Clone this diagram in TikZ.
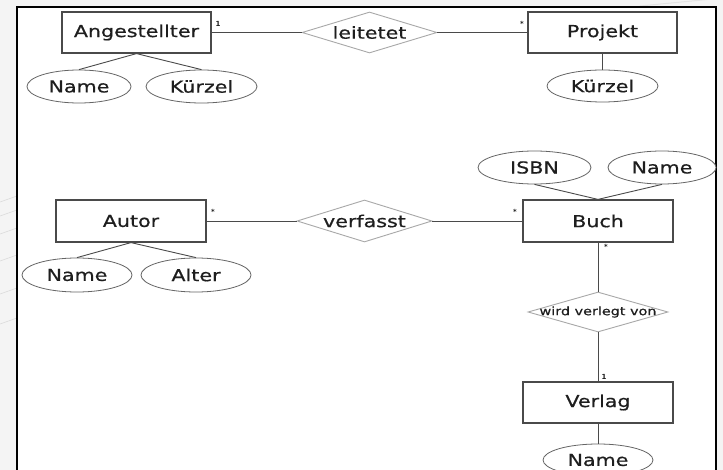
\documentclass[tikz,border=0pt]{standalone}
\usepackage{fontspec}
\usetikzlibrary{shapes.geometric}
\newfontfamily\erfont[FakeStretch=1.25,FakeBold=0.6]{DejaVu Sans}
\newfontfamily\cardfont{DejaVu Sans}
\definecolor{inkline}{HTML}{4A4A4A}
\definecolor{relline}{HTML}{A8A8A8}
\definecolor{inktext}{HTML}{1E1E1E}
\tikzset{
  entity/.style={draw=inkline, line width=1.2pt, fill=white, rectangle,
    minimum width=149pt, minimum height=41pt, inner sep=0pt,
    text=inktext, font=\erfont\fontsize{16.5}{18}\selectfont},
  attrib/.style={draw=inkline!85, line width=0.8pt, fill=white, ellipse,
    minimum width=110pt, minimum height=33pt, inner sep=0pt,
    text=inktext, font=\erfont\fontsize{16.5}{18}\selectfont},
  relation/.style={draw=relline, line width=0.9pt, fill=white, diamond,
    minimum width=135pt, minimum height=41pt, inner sep=0pt},
  reltext/.style={text=inktext, font=\erfont\fontsize{16.5}{18}\selectfont},
  relsmall/.style={text=inktext, font=\erfont\fontsize{11.5}{12}\selectfont},
  card/.style={text=inktext, inner sep=0pt, font=\cardfont\bfseries\fontsize{7}{8}\selectfont},
  link/.style={draw=inkline, line width=0.9pt},
}
\begin{document}
\begin{tikzpicture}[x=1pt, y=-1pt]
  \useasboundingbox (0,0) rectangle (723,470);
  % backdrop and page frame
  \fill[gray!9] (0,0) rectangle (723,470);
  \foreach \yy in {196,210,228,255,288,318}
    \draw[gray!28, line width=0.6pt] (0,\yy+6) -- (17,\yy);
  \draw[gray!22, line width=1pt] (640,6) -- (723,-2);
  \fill[white] (17,7) rectangle (716,480);
  \draw[black, line width=2.4pt] (17,490) -- (17,7) -- (716,7) -- (716,490);

  % upper part: Angestellter leitetet Projekt
  \node[entity] (ang) at (136.5,32.5) {Angestellter};
  \node[relation, label={[reltext]center:leitetet}] (r1) at (369.5,32.5) {};
  \node[entity] (proj) at (602.5,32.5) {Projekt};
  \node[attrib, minimum width=104pt] (angN) at (79,86.5) {Name};
  \node[attrib, minimum width=111pt] (angK) at (201.5,86.5) {Kürzel};
  \node[attrib, minimum width=111pt, minimum height=32pt] (projK) at (602.5,86) {Kürzel};

  \draw[link] (ang.east) -- (r1.west);
  \draw[link] (r1.east) -- (proj.west);
  \draw[link] (ang.south) -- (angN.north);
  \draw[link] (ang.south) -- (angK.north);
  \draw[link] (proj.south) -- (projK.north);
  \node[card] (c1) at (218,24) {1};
  \node[card] (c2) at (522,24) {*};

  % lower part: Autor verfasst Buch, Buch wird verlegt von Verlag
  \node[entity, minimum width=150pt, minimum height=42pt] (autor) at (131,221) {Autor};
  \node[relation, minimum height=42pt, label={[reltext]center:verfasst}] (r2) at (364.5,221) {};
  \node[entity, minimum width=150pt, minimum height=42pt] (buch) at (598,221) {Buch};
  \node[attrib, minimum width=113pt] (isbn) at (534.5,167.5) {ISBN};
  \node[attrib, minimum width=108pt] (bname) at (662,167.5) {Name};
  \node[attrib, minimum height=34pt] (autN) at (77,275) {Name};
  \node[attrib, minimum height=34pt] (autA) at (196,275) {Alter};
  \node[relation, minimum width=140pt, minimum height=40pt,
        label={[relsmall]center:wird verlegt von}] (r3) at (598,312) {};
  \node[entity, minimum width=150pt] (verlag) at (598,402.5) {Verlag};
  \node[attrib, minimum height=32pt] (vname) at (598,460) {Name};

  \draw[link] (autor.east) -- (r2.west);
  \draw[link] (r2.east) -- (buch.west);
  \draw[link] (autor.south) -- (autN.north);
  \draw[link] (autor.south) -- (autA.north);
  \draw[link] (buch.north) -- (isbn.south);
  \draw[link] (buch.north) -- (bname.south);
  \draw[link] (buch.south) -- (r3.north);
  \draw[link] (r3.south) -- (verlag.north);
  \draw[link] (verlag.south) -- (vname.north);
  \node[card] (c3) at (213,212) {*};
  \node[card] (c4) at (515,212) {*};
  \node[card] (c5) at (606,247) {*};
  \node[card] (c6) at (604,377) {1};
\end{tikzpicture}
\end{document}
